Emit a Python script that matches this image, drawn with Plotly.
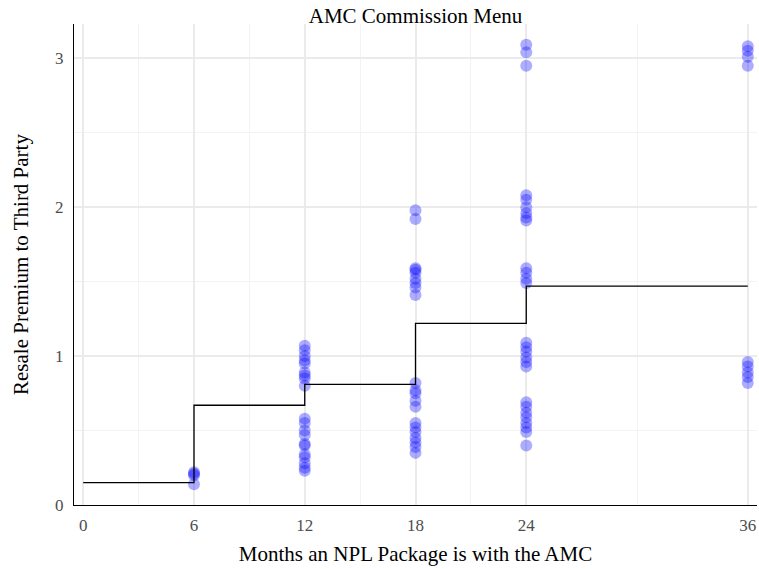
import plotly.graph_objects as go

# Step line (commission menu)
step_months = [0, 6, 12, 18, 24, 36]
step_premium = [0.15, 0.67, 0.81, 1.22, 1.47, 1.47]

# Observed resale premiums by month
months_6 = [6, 6, 6, 6]
prem_6 = [0.22, 0.21, 0.20, 0.14]

months_12 = [12] * 20
prem_12 = [1.07, 1.04, 1.00, 0.97, 0.95, 0.89, 0.87, 0.85, 0.80,
           0.58, 0.55, 0.50, 0.47, 0.41, 0.40, 0.34, 0.32, 0.28, 0.25, 0.23]

months_18 = [18] * 21
prem_18 = [1.98, 1.92, 1.59, 1.58, 1.56, 1.52, 1.49, 1.46, 1.41,
           0.82, 0.77, 0.75, 0.70, 0.66,
           0.55, 0.52, 0.49, 0.45, 0.42, 0.39, 0.35]

months_24 = [24] * 27
prem_24 = [3.09, 3.04, 2.95, 2.08, 2.05, 2.00, 1.96, 1.93, 1.91,
           1.59, 1.56, 1.52, 1.49,
           1.09, 1.06, 1.03, 0.99, 0.96, 0.93,
           0.69, 0.66, 0.62, 0.59, 0.55, 0.52, 0.49, 0.40]

months_36 = [36] * 9
prem_36 = [3.08, 3.05, 3.01, 2.95, 0.96, 0.93, 0.89, 0.86, 0.82]

x_ticks = [0, 6, 12, 18, 24, 36]
y_ticks = [0, 1, 2, 3]

all_x = months_6 + months_12 + months_18 + months_24 + months_36
all_y = prem_6 + prem_12 + prem_18 + prem_24 + prem_36

fig = go.Figure()
fig.add_trace(go.Scatter(
    x=all_x, y=all_y, mode="markers",
    marker=dict(color="rgba(0,0,255,0.32)", size=12, line=dict(width=0)),
    showlegend=False, hoverinfo="x+y", cliponaxis=False))
fig.add_trace(go.Scatter(
    x=step_months, y=step_premium, mode="lines",
    line=dict(color="black", width=1.3, shape="hv"),
    showlegend=False))

serif = "Liberation Serif, Times New Roman, serif"

fig.update_layout(
    width=759, height=569,
    paper_bgcolor="white", plot_bgcolor="white",
    margin=dict(l=74, r=2, t=24, b=64, autoexpand=False),
    font=dict(family=serif, color="black"),
    title=dict(text="AMC Commission Menu", x=0.5, xanchor="center",
               xref="paper", y=1 - 16 / 569, yref="container",
               yanchor="middle", font=dict(size=21, family=serif, color="black")),
    xaxis=dict(
        range=[-0.5, 36.5], tickvals=x_ticks, ticktext=[str(v) for v in x_ticks],
        showgrid=True, gridcolor="#ebebeb", gridwidth=1.5,
        minor=dict(tickvals=[3, 9, 15, 21, 30], showgrid=True,
                   gridcolor="#f3f3f3", gridwidth=1),
        showline=True, linecolor="black", linewidth=1.3,
        zeroline=False, ticks="outside", ticklen=4, tickcolor="rgba(0,0,0,0)",
        tickfont=dict(size=17, color="#4d4d4d", family=serif),
        title=dict(text="Months an NPL Package is with the AMC",
                   font=dict(size=21, family=serif), standoff=12),
    ),
    yaxis=dict(
        range=[0, 3.23], tickvals=y_ticks, ticktext=[str(v) for v in y_ticks],
        showgrid=True, gridcolor="#ebebeb", gridwidth=1.5,
        minor=dict(tickvals=[0.5, 1.5, 2.5], showgrid=True,
                   gridcolor="#f3f3f3", gridwidth=1),
        showline=True, linecolor="black", linewidth=1.3,
        zeroline=False, ticks="outside", ticklen=6, tickcolor="rgba(0,0,0,0)",
        tickfont=dict(size=17, color="#4d4d4d", family=serif),
        title=dict(text="Resale Premium to Third Party",
                   font=dict(size=21, family=serif), standoff=20),
    ),
)

fig.write_html("out.html",
               config={"displayModeBar": False},
               post_script="document.body.style.margin='0';"
                           "document.body.style.overflow='hidden';")
